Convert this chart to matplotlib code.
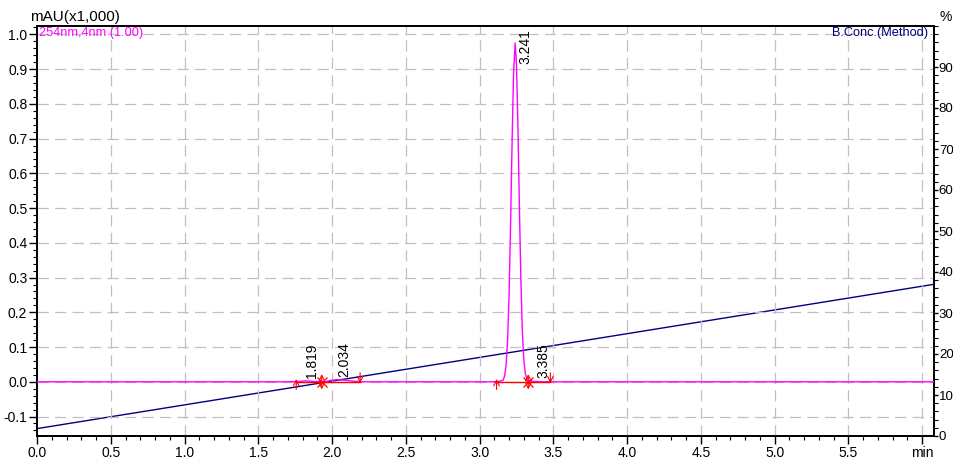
import matplotlib
matplotlib.use("Agg")
import matplotlib.pyplot as plt
from matplotlib.ticker import MultipleLocator, FixedLocator
from matplotlib.transforms import blended_transform_factory

plt.rcParams["font.family"] = ["Liberation Sans", "DejaVu Sans"]

# detector trace (min, AU x1000)
trace_t = [0.00, 1.70, 1.78, 1.82, 1.87, 1.95, 1.99, 2.03, 2.08, 2.14, 2.20,
           3.10, 3.14, 3.16, 3.17, 3.18, 3.19, 3.20, 3.21, 3.22, 3.23, 3.241,
           3.25, 3.26, 3.27, 3.28, 3.29, 3.30, 3.31, 3.32, 3.33, 3.35, 3.38,
           3.42, 4.00, 6.08]
trace_v = [0.000, 0.000, 0.001, 0.003, 0.001, 0.000, 0.004, 0.006, 0.005, 0.002, 0.000,
           0.000, 0.002, 0.005, 0.017, 0.050, 0.122, 0.254, 0.452, 0.685, 0.885, 0.975,
           0.914, 0.730, 0.498, 0.289, 0.143, 0.062, 0.024, 0.010, 0.004, 0.002, 0.001,
           0.000, 0.000, 0.000]

# gradient (B conc, %)
grad_t = [0.0, 6.08]
grad_b = [1.8, 37.0]

# integration events
seg_start = [1.757, 3.115]
seg_valley = [1.93, 3.33]
seg_end = [2.19, 3.48]

# peak tables
peak_rt = [1.819, 2.034, 3.241, 3.385]
peak_h = [0.003, 0.006, 0.975, 0.002]

MAGENTA = "#ff00ff"
NAVY = "#000080"
RED = "#ff0000"
FS = 10

fig = plt.figure(figsize=(9.54, 4.58), dpi=100)
ax = fig.add_axes([37 / 954, 22 / 458, 897 / 954, 410 / 458])
ax2 = ax.twinx()

ax.set_xlim(0, 6.08)
ax.set_ylim(-0.156, 1.024)
ax2.set_ylim(0, 100)

# grid
for x in [i * 0.5 for i in range(1, 13)]:
    ax.axvline(x, color="#c0c0c0", lw=0.9, dashes=(9, 5), zorder=0)
for y in [i / 10 for i in range(-1, 11)]:
    ax.axhline(y, color="#c0c0c0", lw=0.9, dashes=(9, 5), zorder=0)

# gradient line on the right axis
ax2.plot(grad_t, grad_b, color=NAVY, lw=1.0, zorder=2)

# signal
ax.plot(trace_t, trace_v, color=MAGENTA, lw=1.0, zorder=3)
ax.set_zorder(ax2.get_zorder() + 1)
ax.patch.set_visible(False)

# baselines and event markers
for s, v, e in zip(seg_start, seg_valley, seg_end):
    ax.plot([s, e], [0, 0], color=RED, lw=1.0, zorder=4)
    ax.annotate("", xy=(s, 0.008), xytext=(s, -0.022),
                arrowprops=dict(arrowstyle="->", color=RED, lw=0.8, shrinkA=0, shrinkB=0))
    ax.annotate("", xy=(e, -0.004), xytext=(e, 0.026),
                arrowprops=dict(arrowstyle="->", color=RED, lw=0.8, shrinkA=0, shrinkB=0))
    ax.annotate("", xy=(v, 0.022), xytext=(v, -0.022),
                arrowprops=dict(arrowstyle="<->", color=RED, lw=0.8, shrinkA=0, shrinkB=0))
    ax.plot([v], [0], marker="x", color=RED, ms=7, mew=0.9, zorder=5)

# peak labels
for rt, h in zip(peak_rt, peak_h):
    if h > 0.9:
        tr = blended_transform_factory(ax.transData, ax.transAxes)
        ax.annotate(f"{rt:.3f}", xy=(rt, 1.0), xycoords=tr, xytext=(2, -2),
                    textcoords="offset points", rotation=90, ha="left", va="top",
                    fontsize=FS)
    else:
        ax.annotate(f"{rt:.3f}", xy=(rt, h), xytext=(0, 2),
                    textcoords="offset points", rotation=90, ha="left", va="bottom",
                    fontsize=FS)

# ticks
ax.xaxis.set_major_locator(FixedLocator([i * 0.5 for i in range(13)]))
ax.xaxis.set_minor_locator(MultipleLocator(0.1))
ax.set_xticklabels([f"{i * 0.5:.1f}" for i in range(12)] + ["min"])
ax.yaxis.set_major_locator(FixedLocator([i / 10 for i in range(-1, 11)]))
ax.yaxis.set_minor_locator(MultipleLocator(0.02))
ax.set_yticklabels([f"{i / 10:.1f}" for i in range(-1, 11)])
ax2.set_yticks(range(0, 100, 10))
ax2.set_yticklabels([str(v) for v in range(0, 100, 10)])
ax2.yaxis.set_minor_locator(MultipleLocator(2))

ax.tick_params(which="major", length=6, width=1.0, labelsize=FS, pad=1)
ax.tick_params(which="minor", length=3, width=0.8)
ax2.tick_params(which="major", length=3, width=1.0, labelsize=9.5, pad=0.5)
ax2.tick_params(which="minor", length=3, width=0.8)
for a in (ax, ax2):
    for sp in a.spines.values():
        sp.set_linewidth(1.3)

# labels
ax.text(-0.008, 1.005, "mAU(x1,000)", transform=ax.transAxes, ha="left", va="bottom",
        fontsize=11)
ax.text(0.002, 0.997, "254nm,4nm (1.00)", transform=ax.transAxes, ha="left", va="top",
        fontsize=9.2, color=MAGENTA)
ax.text(0.993, 0.997, "B.Conc.(Method)", transform=ax.transAxes, ha="right", va="top",
        fontsize=9.2, color=NAVY)
ax.text(1.006, 1.005, "%", transform=ax.transAxes, ha="left", va="bottom", fontsize=FS)

fig.savefig("out.png", dpi=100)
